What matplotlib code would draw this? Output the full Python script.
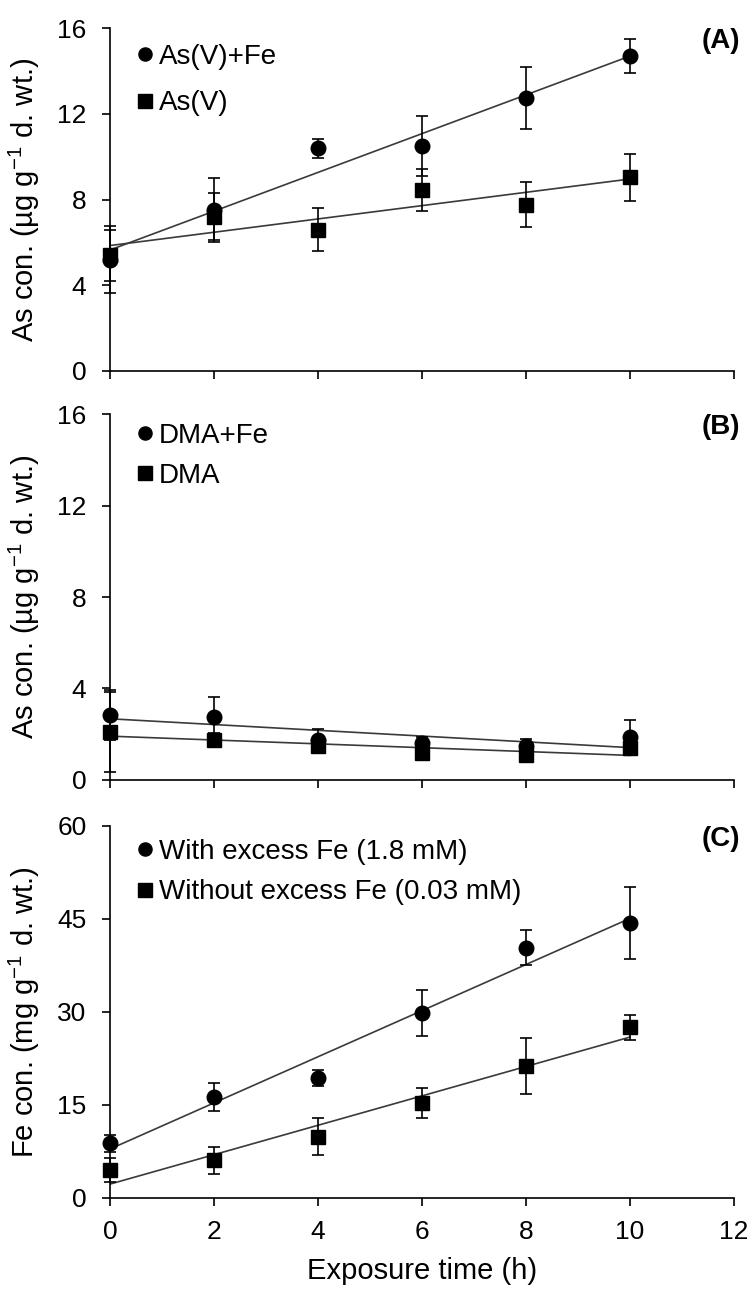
import numpy as np
import matplotlib
matplotlib.use('Agg')
import matplotlib.pyplot as plt

plt.rcParams['font.family'] = ['Liberation Sans', 'DejaVu Sans']
plt.rcParams['mathtext.fontset'] = 'custom'
plt.rcParams['mathtext.rm'] = 'Liberation Sans'
plt.rcParams['mathtext.default'] = 'regular'

# exposure time (h)
tiempo = [0, 2, 4, 6, 8, 10]

# panel A: As con. (ug g-1 d. wt.)
a_fe = [5.2, 7.5, 10.4, 10.5, 12.75, 14.7]
a_fe_err = [1.55, 1.5, 0.45, 1.4, 1.45, 0.8]
a_sin = [5.4, 7.2, 6.6, 8.45, 7.75, 9.05]
a_sin_err = [1.2, 1.1, 1.0, 1.0, 1.05, 1.1]

# panel B: DMA
b_fe = [2.84, 2.74, 1.75, 1.6, 1.48, 1.86]
b_fe_err = [1.1, 0.9, 0.5, 0.3, 0.3, 0.76]
b_sin = [2.1, 1.75, 1.48, 1.17, 1.09, 1.38]
b_sin_err = [1.75, 0.3, 0.3, 0.2, 0.2, 0.2]

# panel C: Fe con. (mg g-1 d. wt.)
c_fe = [8.8, 16.3, 19.3, 29.9, 40.4, 44.3]
c_fe_err = [1.4, 2.3, 1.3, 3.7, 2.8, 5.8]
c_sin = [4.5, 6.1, 9.9, 15.3, 21.3, 27.5]
c_sin_err = [2.0, 2.2, 3.0, 2.4, 4.5, 2.0]

paineis = [
    ('(A)', a_fe, a_fe_err, a_sin, a_sin_err, 'As(V)+Fe', 'As(V)', [0, 4, 8, 12, 16], 16),
    ('(B)', b_fe, b_fe_err, b_sin, b_sin_err, 'DMA+Fe', 'DMA', [0, 4, 8, 12, 16], 16),
    ('(C)', c_fe, c_fe_err, c_sin, c_sin_err, 'With excess Fe (1.8 mM)',
     'Without excess Fe (0.03 mM)', [0, 15, 30, 45, 60], 60),
]
posicoes = [
    [0.1467, 0.7122, 0.832, 0.2659],
    [0.1467, 0.3949, 0.832, 0.2839],
    [0.1467, 0.0706, 0.832, 0.2886],
]
# legenda: topo (coord. eixo) e espacamento
leg_topo = [0.955, 0.975, 0.965]
leg_esp = [0.75, 0.5, 0.52]
ylabels = ['As con. (\u00b5g g$^{-1}$ d. wt.)', 'As con. (\u00b5g g$^{-1}$ d. wt.)',
           'Fe con. (mg g$^{-1}$ d. wt.)']

fig = plt.figure(figsize=(7.5, 12.89), dpi=100)
x = np.array(tiempo)

for i, (letra, yf, ef, ys, es, lf, ls, yt, ymax) in enumerate(paineis):
    ax = fig.add_axes(posicoes[i])
    # linhas de tendencia (regressao linear)
    for yy in (yf, ys):
        p = np.polyfit(x, yy, 1)
        ax.plot([0, 10], np.polyval(p, [0, 10]), color='#3a3a3a', lw=1.2, zorder=2)
    for yy, ee in ((yf, ef), (ys, es)):
        ax.errorbar(x, yy, yerr=ee, fmt='none', ecolor='black', elinewidth=1.2,
                    capsize=4.5, capthick=1.2, zorder=3, clip_on=False)
    ax.plot(x, yf, 'o', color='black', ms=10.5, label=lf, zorder=4, clip_on=False)
    ax.plot(x, ys, 's', color='black', ms=10.5, label=ls, zorder=4, clip_on=False)

    ax.set_xlim(0, 12)
    ax.set_ylim(0, ymax)
    ax.set_xticks(range(0, 13, 2))
    ax.set_yticks(yt)
    for s in ('top', 'right'):
        ax.spines[s].set_visible(False)
    for s in ('left', 'bottom'):
        ax.spines[s].set_linewidth(1.2)
    ax.tick_params(direction='out', length=6, width=1.2, labelsize=19)
    ax.tick_params(axis='y', pad=11)
    ax.tick_params(axis='x', pad=10)
    if i < 2:
        ax.tick_params(axis='x', labelbottom=False)
    else:
        ax.set_xlabel('Exposure time (h)', fontsize=21, labelpad=9)
    ax.set_ylabel(ylabels[i], fontsize=21)
    ax.yaxis.set_label_coords(-0.109, 0.5)

    ax.text(1.01, 1.0, letra, transform=ax.transAxes, ha='right', va='top',
            fontsize=20, fontweight='bold')
    ax.legend(loc='upper left', bbox_to_anchor=(0.04, leg_topo[i]), frameon=False,
              fontsize=20, handlelength=0.75, handletextpad=0.12, borderpad=0,
              borderaxespad=0, labelspacing=leg_esp[i], markerscale=0.9)

fig.savefig('out.png', dpi=100)
